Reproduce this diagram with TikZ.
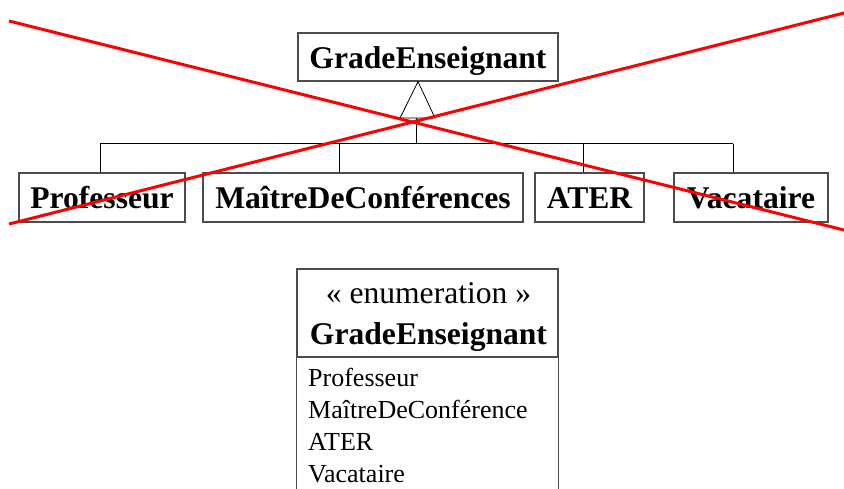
\documentclass[tikz,border=0pt]{standalone}
\usepackage{fontspec}
\setmainfont{Liberation Serif}
\begin{document}
\begin{tikzpicture}[x=1pt,y=1pt,
  cls/.style={draw=black!70, line width=1.2pt, inner sep=0pt, text height=22pt, text depth=0pt,
    minimum height=49pt, font=\fontsize{31.6}{36}\selectfont\bfseries},
  conn/.style={line width=0.8pt, black},
  border/.style={draw=black!70, line width=1.2pt},
  txt/.style={inner sep=0pt, font=\fontsize{31.6}{36}\selectfont},
  item/.style={inner sep=0pt, anchor=base west, font=\fontsize{26}{30}\selectfont},
  cross/.style={red, line width=3pt}]
\useasboundingbox (0,0) rectangle (844,-488);
% upper hierarchy
\node[cls, minimum width=260pt, minimum height=48pt] (top) at (428,-57) {GradeEnseignant};
\node[cls, minimum width=166pt] (prof) at (102,-197.5) {Professeur};
\node[cls, minimum width=320pt] (maitre) at (363,-197.5) {MaîtreDeConférences};
\node[cls, minimum width=109pt] (ater) at (589.5,-197.5) {ATER};
\node[cls, minimum width=154pt] (vac) at (751,-197.5) {Vacataire};
% generalisation
\coordinate (ax) at (418,0);
\coordinate (apex) at (ax |- top.south);
\coordinate (tl) at (400,-118);
\coordinate (tr) at (435,-118);
\coordinate (tb) at (416,-118);
\coordinate (hub) at (416,-143.5);
\coordinate (hl) at (100,-143.5);
\coordinate (hr) at (733,-143.5);
\coordinate (bm) at (339,-143.5);
\coordinate (ba) at (583,-143.5);
\draw[conn] (apex) -- (tl) -- (tr) -- cycle;
\draw[conn] (tb) -- (hub);
\draw[conn] (hl) -- (hr);
\draw[conn] (hl) -- (hl |- prof.north);
\draw[conn] (bm) -- (bm |- maitre.north);
\draw[conn] (ba) -- (ba |- ater.north);
\draw[conn] (hr) -- (hr |- vac.north);
% enumeration
\node[border, minimum width=261pt, minimum height=88pt, inner sep=0pt] (enum) at (427.5,-313) {};
\coordinate (bot) at (0,-492);
\draw[border] (enum.south west) -- (enum.south west |- bot);
\draw[border] (enum.south east) -- (enum.south east |- bot);
\node[txt, anchor=base] (stereo) at (428.5,-303.5) {« enumeration »};
\node[txt, anchor=base, font=\fontsize{31.6}{36}\selectfont\bfseries] (etitle) at (428.5,-344.5) {GradeEnseignant};
\node[item] (i1) at (308,-386) {Professeur};
\node[item] (i2) at (308,-418) {MaîtreDeConférence};
\node[item] (i3) at (308,-450) {ATER};
\node[item] (i4) at (308,-482) {Vacataire};
% cross
\coordinate (r1a) at (9,-21);
\coordinate (r1b) at (846,-230.5);
\coordinate (r2a) at (9,-224);
\coordinate (r2b) at (846,-12.5);
\draw[cross] (r1a) -- (r1b);
\draw[cross] (r2a) -- (r2b);
\end{tikzpicture}
\end{document}
